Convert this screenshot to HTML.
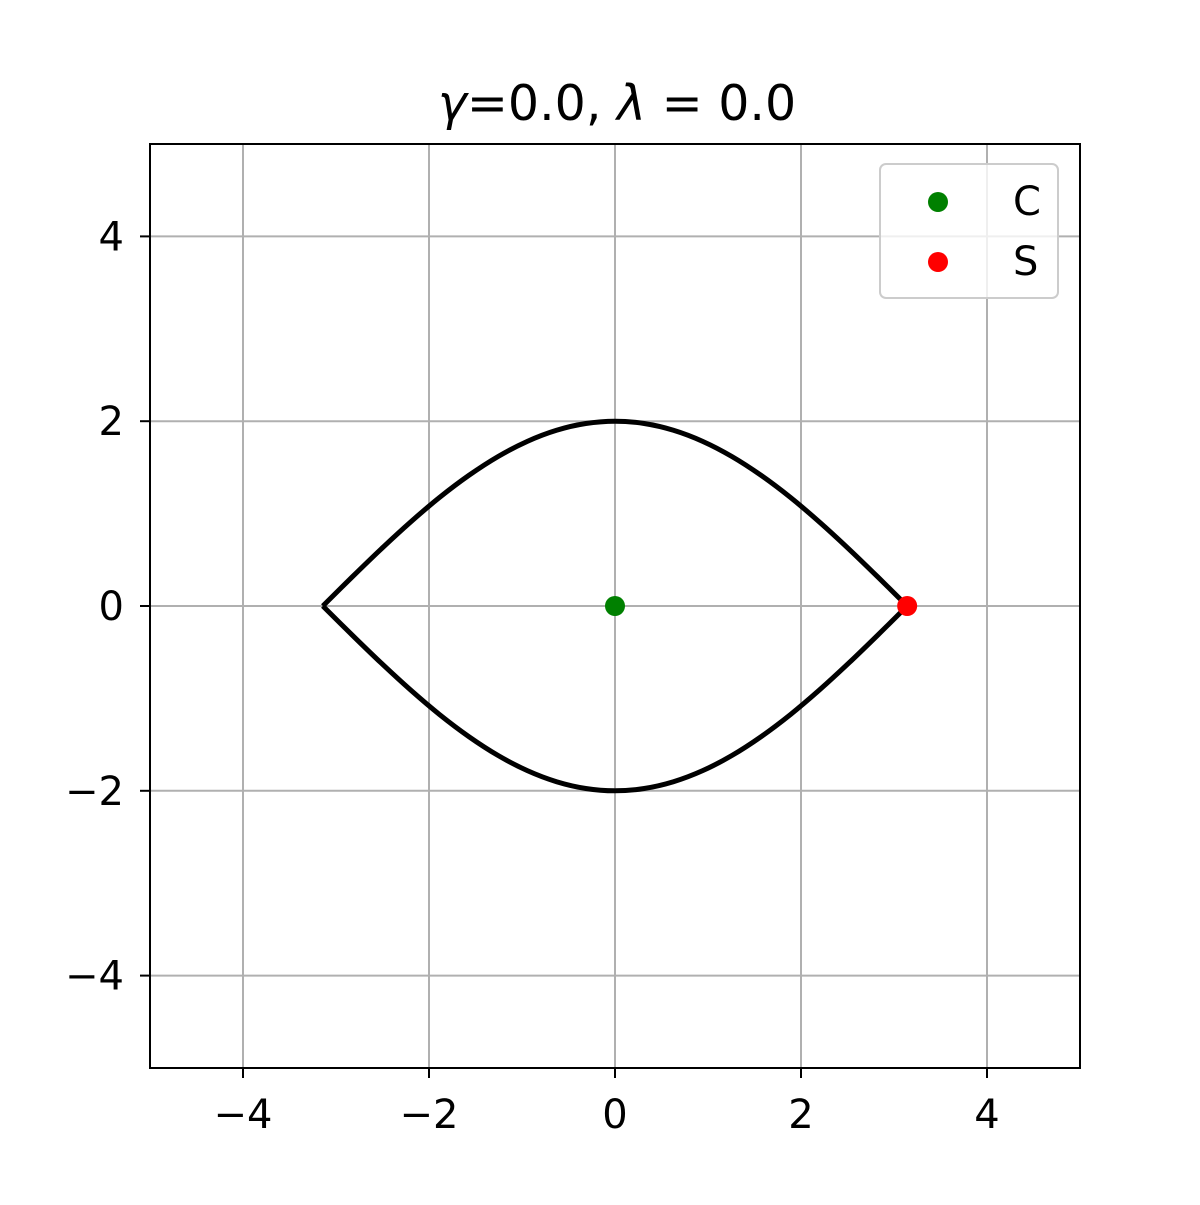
<!DOCTYPE html>
<html><head><meta charset="utf-8"><style>
html,body{margin:0;padding:0;background:#fff;}
svg text{font-family:"DejaVu Sans","Liberation Sans",sans-serif;fill:#000;}
</style></head><body>
<svg id="chart" width="1200" height="1200" xmlns="http://www.w3.org/2000/svg">
<rect width="1200" height="1200" fill="#fff"/>
<text x="617" y="120" font-size="49" text-anchor="middle"><tspan font-style="italic">γ</tspan>=0.0, <tspan font-style="italic">λ</tspan> = 0.0</text>
<g id="grid"></g>
<g id="curves"></g>
<g id="points"></g>
<rect x="150" y="144" width="930" height="924" fill="none" stroke="#000" stroke-width="2"/>
<g id="ticks"></g>
<g>
<rect x="880" y="164" width="178" height="134" rx="6" fill="#fff" fill-opacity="0.8" stroke="#ccc" stroke-width="2"/>
<circle cx="938" cy="202" r="10" fill="green"/>
<text x="1013" y="215" font-size="40">C</text>
<circle cx="938" cy="262" r="10" fill="red"/>
<text x="1013" y="275" font-size="40">S</text>
</g>
</svg>
<script>
const xTicks=[-4,-2,0,2,4];
const yTicks=[-4,-2,0,2,4];
const curveX=[-3.1416,-2.8274,-2.5133,-2.1991,-1.885,-1.5708,-1.2566,-0.9425,-0.6283,-0.3142,0,0.3142,0.6283,0.9425,1.2566,1.5708,1.885,2.1991,2.5133,2.8274,3.1416];
const upperY=[0,0.313,0.618,0.908,1.176,1.414,1.618,1.782,1.902,1.975,2,1.975,1.902,1.782,1.618,1.414,1.176,0.908,0.618,0.313,0];
const lowerY=[0,-0.313,-0.618,-0.908,-1.176,-1.414,-1.618,-1.782,-1.902,-1.975,-2,-1.975,-1.902,-1.782,-1.618,-1.414,-1.176,-0.908,-0.618,-0.313,0];
const centerPoint=[0,0];
const saddlePoint=[3.1416,0];
const NS='http://www.w3.org/2000/svg';
const X=v=>150+(v+5)*93;
const Y=v=>1068-(v+5)*92.4;
function mk(tag,attrs,parent){const e=document.createElementNS(NS,tag);for(const k in attrs)e.setAttribute(k,attrs[k]);parent.appendChild(e);return e;}
const grid=document.getElementById('grid'),ticks=document.getElementById('ticks');
xTicks.forEach(t=>{
 const l=mk('line',{x1:X(t),x2:X(t),y1:144,y2:1068,stroke:'#b0b0b0','stroke-width':2},grid);
 
 
 const tk=mk('line',{x1:X(t),x2:X(t),y1:1068,y2:1078,stroke:'#000','stroke-width':2},ticks);
 
 
 const tx=mk('text',{x:X(t),y:1128,'font-size':40,'text-anchor':'middle'},ticks);
 tx.textContent=t<0?'\u2212'+Math.abs(t):String(t);
 
 
});
yTicks.forEach(t=>{
 const l=mk('line',{x1:150,x2:1080,y1:Y(t),y2:Y(t),stroke:'#b0b0b0','stroke-width':2},grid);
 
 
 const tk=mk('line',{x1:140,x2:150,y1:Y(t),y2:Y(t),stroke:'#000','stroke-width':2},ticks);
 
 
 const tx=mk('text',{x:124,y:Y(t)+14,'font-size':40,'text-anchor':'end'},ticks);
 tx.textContent=t<0?'\u2212'+Math.abs(t):String(t);
 
 
});
function smoothPath(pts){
 let d='M'+pts[0][0]+','+pts[0][1];
 for(let i=0;i<pts.length-1;i++){
  const p0=pts[Math.max(i-1,0)],p1=pts[i],p2=pts[i+1],p3=pts[Math.min(i+2,pts.length-1)];
  const c1=[p1[0]+(p2[0]-p0[0])/6,p1[1]+(p2[1]-p0[1])/6];
  const c2=[p2[0]-(p3[0]-p1[0])/6,p2[1]-(p3[1]-p1[1])/6];
  d+=' C'+c1[0]+','+c1[1]+' '+c2[0]+','+c2[1]+' '+p2[0]+','+p2[1];
 }
 return d;
}
const curves=document.getElementById('curves');
[upperY,lowerY].forEach((ys,i)=>{
 const pts=curveX.map((x,j)=>[X(x),Y(ys[j])]);
 const p=mk('path',{d:smoothPath(pts),fill:'none',stroke:'#000','stroke-width':5,'stroke-linejoin':'round'},curves);
 
 
});
const pg=document.getElementById('points');
const c=mk('circle',{cx:X(centerPoint[0]),cy:Y(centerPoint[1]),r:10,fill:'green'},pg);


const s=mk('circle',{cx:X(saddlePoint[0]),cy:Y(saddlePoint[1]),r:10,fill:'red'},pg);


</script>
</body></html>
